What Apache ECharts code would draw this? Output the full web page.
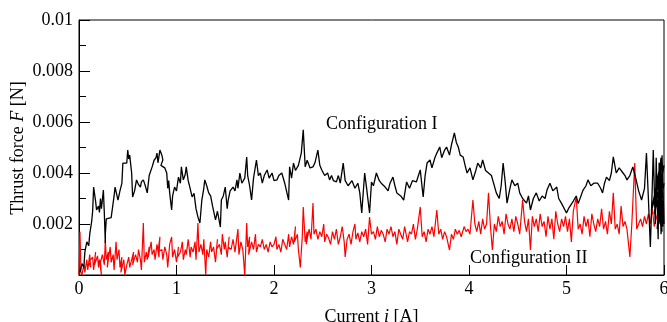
<!DOCTYPE html>
<html>
<head>
<meta charset="utf-8">
<script src="https://cdn.jsdelivr.net/npm/echarts@6/dist/echarts.min.js"></script>
<style>
  html, body { margin: 0; padding: 0; background: #fff; }
  #chart { width: 667px; height: 322px; }
</style>
</head>
<body>
<div id="chart"></div>
<script>
// Thrust force vs. current, two magnet configurations. Pairs are [current A, force N].
const configI = [
  [0.01,0.00010],[0.03,0.00045],[0.05,0.00030],[0.06,0.00090],[0.08,0.00130],[0.10,0.00115],[0.11,0.00160],
  [0.13,0.00210],[0.14,0.00250],[0.15,0.00345],[0.17,0.00290],[0.18,0.00255],[0.20,0.00270],[0.21,0.00245],
  [0.22,0.00300],[0.23,0.00260],[0.25,0.00333],[0.26,0.00240],[0.27,0.00125],[0.27,0.00160],[0.28,0.00220],
  [0.30,0.00216],[0.33,0.00225],[0.35,0.00227],[0.36,0.00310],[0.37,0.00345],[0.39,0.00310],[0.40,0.00294],
  [0.42,0.00330],[0.44,0.00360],[0.45,0.00439],[0.47,0.00439],[0.49,0.00439],[0.50,0.00490],[0.51,0.00455],
  [0.52,0.00470],[0.54,0.00400],[0.55,0.00306],[0.57,0.00330],[0.59,0.00373],[0.61,0.00355],[0.63,0.00345],
  [0.64,0.00365],[0.66,0.00373],[0.68,0.00350],[0.70,0.00322],[0.72,0.00390],[0.75,0.00424],[0.77,0.00450],
  [0.79,0.00460],[0.80,0.00478],[0.81,0.00440],[0.83,0.00490],[0.85,0.00470],[0.86,0.00451],[0.84,0.00430],
  [0.88,0.00420],[0.90,0.00400],[0.91,0.00340],[0.92,0.00370],[0.93,0.00322],[0.95,0.00255],[0.96,0.00310],
  [0.98,0.00345],[1.00,0.00330],[1.02,0.00384],[1.04,0.00360],[1.05,0.00424],[1.07,0.00373],[1.09,0.00395],
  [1.10,0.00424],[1.12,0.00370],[1.13,0.00355],[1.16,0.00306],[1.18,0.00320],[1.20,0.00260],[1.22,0.00227],
  [1.24,0.00204],[1.26,0.00294],[1.28,0.00340],[1.29,0.00373],[1.31,0.00350],[1.33,0.00322],[1.35,0.00310],
  [1.37,0.00270],[1.40,0.00216],[1.42,0.00250],[1.45,0.00188],[1.46,0.00294],[1.48,0.00310],[1.50,0.00345],
  [1.52,0.00260],[1.53,0.00294],[1.55,0.00330],[1.58,0.00345],[1.60,0.00330],[1.62,0.00373],[1.63,0.00340],
  [1.65,0.00400],[1.67,0.00360],[1.70,0.00380],[1.72,0.00463],[1.73,0.00390],[1.75,0.00350],[1.77,0.00294],
  [1.79,0.00380],[1.82,0.00451],[1.84,0.00390],[1.86,0.00400],[1.88,0.00360],[1.90,0.00390],[1.93,0.00412],
  [1.95,0.00380],[1.98,0.00400],[2.00,0.00370],[2.03,0.00373],[2.05,0.00390],[2.08,0.00400],[2.11,0.00360],
  [2.15,0.00294],[2.16,0.00424],[2.18,0.00380],[2.20,0.00439],[2.22,0.00410],[2.25,0.00430],[2.28,0.00478],
  [2.30,0.00569],[2.32,0.00424],[2.34,0.00450],[2.37,0.00420],[2.40,0.00424],[2.42,0.00440],[2.45,0.00490],
  [2.47,0.00430],[2.49,0.00412],[2.52,0.00390],[2.55,0.00400],[2.57,0.00373],[2.59,0.00390],[2.61,0.00370],
  [2.64,0.00365],[2.66,0.00390],[2.68,0.00360],[2.71,0.00439],[2.73,0.00370],[2.76,0.00350],[2.78,0.00345],
  [2.80,0.00370],[2.83,0.00340],[2.86,0.00360],[2.88,0.00322],[2.90,0.00243],[2.93,0.00400],[2.95,0.00340],
  [2.98,0.00243],[3.00,0.00365],[3.02,0.00350],[3.05,0.00400],[3.08,0.00370],[3.10,0.00360],[3.14,0.00345],
  [3.17,0.00330],[3.19,0.00360],[3.22,0.00384],[3.24,0.00350],[3.26,0.00322],[3.30,0.00310],[3.33,0.00294],
  [3.36,0.00365],[3.39,0.00340],[3.42,0.00370],[3.46,0.00365],[3.50,0.00412],[3.53,0.00306],[3.55,0.00390],
  [3.57,0.00439],[3.60,0.00451],[3.62,0.00420],[3.65,0.00460],[3.67,0.00478],[3.70,0.00502],[3.72,0.00460],
  [3.75,0.00490],[3.77,0.00502],[3.80,0.00470],[3.82,0.00510],[3.85,0.00557],[3.87,0.00520],[3.89,0.00502],
  [3.91,0.00470],[3.94,0.00463],[3.96,0.00430],[3.98,0.00400],[4.01,0.00420],[4.04,0.00373],[4.07,0.00410],
  [4.09,0.00439],[4.12,0.00420],[4.14,0.00451],[4.17,0.00410],[4.20,0.00400],[4.23,0.00390],[4.25,0.00384],
  [4.28,0.00322],[4.31,0.00300],[4.33,0.00350],[4.35,0.00439],[4.37,0.00370],[4.39,0.00282],[4.42,0.00340],
  [4.44,0.00373],[4.47,0.00350],[4.50,0.00360],[4.52,0.00322],[4.55,0.00300],[4.59,0.00282],[4.61,0.00310],
  [4.63,0.00255],[4.66,0.00300],[4.69,0.00322],[4.72,0.00290],[4.75,0.00310],[4.78,0.00300],[4.80,0.00333],
  [4.83,0.00360],[4.86,0.00330],[4.90,0.00345],[4.92,0.00300],[4.95,0.00280],[5.00,0.00243],[5.02,0.00260],
  [5.04,0.00267],[5.07,0.00290],[5.10,0.00310],[5.12,0.00280],[5.14,0.00282],[5.17,0.00333],[5.20,0.00350],
  [5.22,0.00373],[5.25,0.00350],[5.28,0.00360],[5.32,0.00360],[5.35,0.00340],[5.37,0.00322],[5.39,0.00360],
  [5.41,0.00384],[5.44,0.00370],[5.46,0.00400],[5.48,0.00463],[5.51,0.00400],[5.54,0.00420],[5.58,0.00400],
  [5.60,0.00390],[5.62,0.00373],[5.65,0.00390],[5.68,0.00424],[5.71,0.00380],[5.74,0.00330],[5.77,0.00294],
  [5.80,0.00340],[5.82,0.00478],[5.84,0.00300],[5.86,0.00110],[5.88,0.00350],[5.89,0.00490],[5.91,0.00200],
  [5.92,0.00460],[5.94,0.00140],[5.95,0.00440],[5.97,0.00160],[5.98,0.00470],[6.00,0.00200],[5.96,0.00380],
  [5.93,0.00180],[5.99,0.00420],[5.90,0.00240],[5.97,0.00460],[5.94,0.00200],[6.00,0.00360],[5.91,0.00300],
  [5.98,0.00170],[5.95,0.00410],[5.87,0.00250],[6.00,0.00430],[5.93,0.00260],[5.99,0.00190],[5.96,0.00340]
];

const configII = [
  [0.00,0.00000],[0.01,0.00170],[0.02,0.00010],[0.03,0.00000],[0.05,0.00040],[0.06,0.00010],[0.08,0.00060],
  [0.09,0.00020],[0.11,0.00080],[0.12,0.00030],[0.10,0.00050],[0.14,0.00070],[0.15,0.00020],[0.17,0.00090],
  [0.16,0.00040],[0.19,0.00075],[0.20,0.00030],[0.21,0.00060],[0.23,0.00000],[0.22,0.00050],[0.24,0.00080],
  [0.26,0.00040],[0.27,0.00137],[0.28,0.00060],[0.30,0.00090],[0.29,0.00030],[0.32,0.00110],[0.33,0.00050],
  [0.35,0.00080],[0.36,0.00020],[0.38,0.00130],[0.39,0.00060],[0.41,0.00100],[0.42,0.00030],[0.44,0.00070],
  [0.43,0.00010],[0.46,0.00060],[0.47,0.00000],[0.49,0.00040],[0.51,0.00070],[0.52,0.00030],[0.54,0.00060],
  [0.56,0.00090],[0.55,0.00040],[0.58,0.00080],[0.60,0.00050],[0.61,0.00100],[0.63,0.00060],[0.64,0.00020],
  [0.66,0.00204],[0.67,0.00050],[0.69,0.00090],[0.70,0.00060],[0.72,0.00110],[0.71,0.00070],[0.74,0.00130],
  [0.75,0.00080],[0.77,0.00100],[0.78,0.00060],[0.80,0.00120],[0.82,0.00070],[0.83,0.00150],[0.81,0.00090],
  [0.85,0.00100],[0.86,0.00060],[0.88,0.00110],[0.90,0.00080],[0.91,0.00030],[0.93,0.00120],[0.95,0.00149],
  [0.96,0.00070],[0.98,0.00100],[1.00,0.00050],[1.02,0.00110],[1.01,0.00070],[1.04,0.00090],[1.06,0.00130],
  [1.07,0.00060],[1.09,0.00100],[1.10,0.00080],[1.12,0.00140],[1.14,0.00070],[1.15,0.00110],[1.17,0.00090],
  [1.19,0.00130],[1.20,0.00060],[1.22,0.00204],[1.23,0.00090],[1.25,0.00120],[1.27,0.00080],[1.28,0.00140],
  [1.30,0.00000],[1.31,0.00100],[1.33,0.00070],[1.35,0.00130],[1.36,0.00090],[1.38,0.00110],[1.40,0.00050],
  [1.42,0.00140],[1.41,0.00100],[1.44,0.00120],[1.46,0.00080],[1.47,0.00160],[1.49,0.00100],[1.50,0.00130],
  [1.52,0.00070],[1.54,0.00150],[1.53,0.00110],[1.56,0.00100],[1.58,0.00140],[1.60,0.00090],[1.61,0.00120],
  [1.63,0.00180],[1.64,0.00080],[1.66,0.00130],[1.68,0.00100],[1.70,0.00000],[1.72,0.00204],[1.73,0.00110],
  [1.75,0.00150],[1.74,0.00080],[1.77,0.00130],[1.79,0.00100],[1.81,0.00160],[1.82,0.00090],[1.84,0.00120],
  [1.86,0.00110],[1.88,0.00140],[1.90,0.00100],[1.92,0.00120],[1.94,0.00090],[1.96,0.00130],[1.98,0.00110],
  [2.00,0.00120],[2.02,0.00150],[2.03,0.00100],[2.05,0.00120],[2.07,0.00090],[2.09,0.00140],[2.11,0.00120],
  [2.13,0.00100],[2.15,0.00160],[2.16,0.00110],[2.18,0.00150],[2.20,0.00120],[2.22,0.00190],[2.21,0.00130],
  [2.24,0.00160],[2.25,0.00100],[2.27,0.00030],[2.29,0.00150],[2.30,0.00267],[2.32,0.00130],[2.34,0.00170],
  [2.33,0.00120],[2.36,0.00180],[2.38,0.00140],[2.40,0.00282],[2.41,0.00160],[2.43,0.00180],[2.45,0.00140],
  [2.47,0.00170],[2.49,0.00150],[2.51,0.00200],[2.52,0.00130],[2.54,0.00160],[2.56,0.00145],[2.58,0.00120],
  [2.60,0.00170],[2.62,0.00140],[2.64,0.00180],[2.66,0.00120],[2.68,0.00150],[2.70,0.00190],[2.72,0.00130],
  [2.73,0.00071],[2.75,0.00140],[2.77,0.00160],[2.79,0.00120],[2.81,0.00170],[2.83,0.00200],[2.84,0.00140],
  [2.86,0.00165],[2.88,0.00130],[2.90,0.00170],[2.92,0.00150],[2.94,0.00180],[2.96,0.00120],[2.98,0.00227],
  [3.00,0.00160],[3.02,0.00170],[3.04,0.00140],[3.06,0.00190],[3.08,0.00150],[3.10,0.00175],[3.12,0.00160],
  [3.14,0.00130],[3.16,0.00180],[3.18,0.00160],[3.20,0.00190],[3.22,0.00150],[3.24,0.00170],[3.26,0.00120],
  [3.28,0.00180],[3.30,0.00160],[3.32,0.00140],[3.34,0.00190],[3.36,0.00150],[3.37,0.00130],[3.39,0.00170],
  [3.41,0.00160],[3.43,0.00200],[3.45,0.00140],[3.47,0.00180],[3.50,0.00267],[3.52,0.00150],[3.54,0.00170],
  [3.56,0.00130],[3.58,0.00180],[3.60,0.00160],[3.62,0.00190],[3.64,0.00150],[3.67,0.00255],[3.69,0.00160],
  [3.71,0.00180],[3.73,0.00140],[3.75,0.00170],[3.77,0.00150],[3.80,0.00098],[3.82,0.00160],[3.84,0.00140],
  [3.86,0.00180],[3.88,0.00160],[3.90,0.00175],[3.92,0.00150],[3.95,0.00190],[3.97,0.00170],[3.99,0.00180],
  [4.01,0.00160],[4.04,0.00294],[4.06,0.00200],[4.08,0.00170],[4.10,0.00210],[4.12,0.00160],[4.14,0.00220],
  [4.16,0.00180],[4.18,0.00200],[4.20,0.00322],[4.22,0.00190],[4.24,0.00098],[4.26,0.00200],[4.28,0.00170],
  [4.30,0.00230],[4.32,0.00190],[4.34,0.00210],[4.36,0.00160],[4.38,0.00240],[4.40,0.00200],[4.42,0.00180],
  [4.44,0.00220],[4.46,0.00170],[4.48,0.00230],[4.50,0.00200],[4.52,0.00160],[4.55,0.00294],[4.57,0.00210],
  [4.59,0.00170],[4.61,0.00220],[4.63,0.00098],[4.65,0.00230],[4.67,0.00190],[4.69,0.00220],[4.71,0.00170],
  [4.73,0.00240],[4.75,0.00190],[4.77,0.00210],[4.79,0.00150],[4.81,0.00230],[4.83,0.00180],[4.85,0.00220],
  [4.87,0.00140],[4.89,0.00250],[4.91,0.00200],[4.93,0.00170],[4.95,0.00220],[4.97,0.00190],[4.99,0.00230],
  [5.01,0.00170],[5.03,0.00220],[5.05,0.00130],[5.07,0.00250],[5.10,0.00306],[5.12,0.00180],[5.14,0.00200],
  [5.16,0.00160],[5.18,0.00230],[5.20,0.00190],[5.22,0.00220],[5.24,0.00150],[5.26,0.00240],[5.28,0.00200],
  [5.30,0.00170],[5.32,0.00220],[5.34,0.00190],[5.36,0.00260],[5.38,0.00180],[5.40,0.00210],[5.42,0.00160],
  [5.44,0.00250],[5.46,0.00200],[5.48,0.00322],[5.50,0.00180],[5.52,0.00200],[5.54,0.00160],[5.56,0.00270],
  [5.58,0.00190],[5.60,0.00210],[5.62,0.00180],[5.65,0.00071],[5.67,0.00200],[5.70,0.00439],[5.72,0.00180],
  [5.74,0.00200],[5.76,0.00220],[5.78,0.00190],[5.80,0.00230],[5.82,0.00200],[5.84,0.00240],[5.86,0.00200],
  [5.88,0.00260],[5.90,0.00190],[5.92,0.00220],[5.94,0.00250],[5.96,0.00200],[5.98,0.00230],[5.96,0.00216]
];

const currentTicks = [0, 1, 2, 3, 4, 5, 6];
const forceTicks = [0.002, 0.004, 0.006, 0.008, 0.01];

const serif = '"Liberation Serif", "DejaVu Serif", serif';
const nameRich = {
  a: { fontFamily: serif, fontSize: 18, color: '#000' },
  b: { fontFamily: serif, fontSize: 18, fontStyle: 'italic', color: '#000' }
};
const chart = echarts.init(document.getElementById('chart'), null, { renderer: 'canvas' });

chart.setOption({
  animation: false,
  backgroundColor: '#fff',
  grid: {
    left: 79, right: 3, top: 20, bottom: 47,
    outerBoundsMode: 'none',
    containLabel: false,
    show: true, borderColor: '#000', borderWidth: 1, backgroundColor: 'transparent'
  },
  xAxis: {
    type: 'value',
    min: currentTicks[0],
    max: currentTicks[currentTicks.length - 1],
    interval: 1,
    name: '{a|Current }{b|i}{a| [A]}',
    nameLocation: 'middle',
    nameGap: 33,
    nameTextStyle: { rich: nameRich },
    axisLine: { show: true, lineStyle: { color: '#000', width: 1 } },
    axisTick: { show: true, inside: true, length: 10, lineStyle: { color: '#000' } },
    axisLabel: { fontFamily: serif, fontSize: 18, color: '#000', margin: 5 },
    splitLine: { show: false }
  },
  yAxis: {
    type: 'value',
    min: 0,
    max: forceTicks[forceTicks.length - 1],
    interval: 0.002,
    axisLine: { show: true, lineStyle: { color: '#000', width: 1 } },
    axisTick: { show: true, inside: true, length: 11, lineStyle: { color: '#000' } },
    minorTick: { show: true, splitNumber: 2, length: 7, lineStyle: { color: '#000' } },
    axisLabel: {
      fontFamily: serif, fontSize: 18, color: '#000', margin: 6,
      formatter: v => {
        const t = forceTicks.find(f => Math.abs(f - v) < 1e-9);
        return t === undefined ? '' : String(t);
      }
    },
    splitLine: { show: false }
  },
  series: [
    {
      name: 'Configuration II',
      type: 'line',
      data: configII,
      showSymbol: false,
      symbol: 'none',
      lineStyle: { color: '#ff0000', width: 1.2 },
      z: 2
    },
    {
      name: 'Configuration I',
      type: 'line',
      data: configI,
      showSymbol: false,
      symbol: 'none',
      lineStyle: { color: '#000', width: 1.3 },
      z: 3
    }
  ],
  graphic: [
    {
      // vertical axis title
      type: 'text', x: 18, y: 148, rotation: Math.PI / 2, z: 10,
      style: {
        text: '{a|Thrust force }{b|F}{a| [N]}',
        rich: nameRich, align: 'center', verticalAlign: 'middle'
      }
    },
    {
      type: 'text', left: 326, top: 115, z: 10,
      style: { text: 'Configuration I', font: '18px ' + serif, fill: '#000' }
    },
    {
      type: 'text', left: 470, top: 249, z: 10,
      style: { text: 'Configuration II', font: '18px ' + serif, fill: '#000' }
    }
  ]
});
</script>
</body>
</html>
